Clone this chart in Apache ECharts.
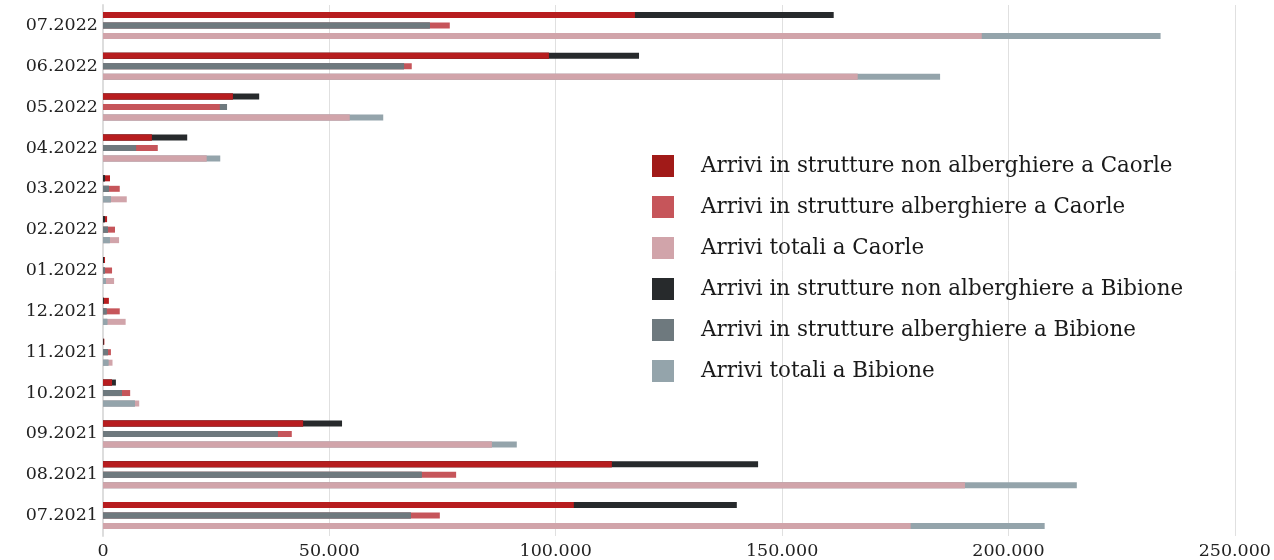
<!DOCTYPE html>
<html>
<head>
<meta charset="utf-8">
<script src="https://cdn.jsdelivr.net/npm/echarts@6/dist/echarts.min.js"></script>
<style>
  html, body { margin: 0; padding: 0; background: #ffffff; }
  #chart { width: 1274px; height: 560px; }
</style>
</head>
<body>
<div id="chart"></div>
<script>
// Monthly arrivals, Caorle vs Bibione (July 2021 – July 2022)
const months = ['07.2021', '08.2021', '09.2021', '10.2021', '11.2021', '12.2021',
                '01.2022', '02.2022', '03.2022', '04.2022', '05.2022', '06.2022', '07.2022'];

const caorleNonAlb = [104000, 112400, 44200, 2000, 300, 1300, 450, 900, 1550, 10800, 28700, 98500, 117500];
const caorleAlb    = [74400, 78000, 41700, 6000, 1750, 3700, 2000, 2650, 3700, 12100, 25800, 68200, 76600];
const caorleTot    = [178400, 190400, 85900, 8000, 2100, 5000, 2450, 3550, 5250, 22900, 54500, 166700, 194100];

const bibioneNonAlb = [140000, 144700, 52800, 2850, 100, 150, 200, 400, 450, 18600, 34500, 118400, 161400];
const bibioneAlb    = [68000, 70400, 38600, 4200, 1100, 800, 450, 1100, 1300, 7300, 27400, 66500, 72200];
const bibioneTot    = [208000, 215100, 91400, 7050, 1200, 950, 650, 1500, 1750, 25900, 61900, 184900, 233600];

const xTicks = { min: 0, max: 250000, interval: 50000 };

const names = {
  caorleNonAlb: 'Arrivi in strutture non alberghiere a Caorle',
  caorleAlb: 'Arrivi in strutture alberghiere a Caorle',
  caorleTot: 'Arrivi totali a Caorle',
  bibioneNonAlb: 'Arrivi in strutture non alberghiere a Bibione',
  bibioneAlb: 'Arrivi in strutture alberghiere a Bibione',
  bibioneTot: 'Arrivi totali a Bibione'
};

const colors = {
  caorleNonAlb: '#b71d1f',
  caorleAlb: '#c6555a',
  caorleTot: '#d1a4aa',
  bibioneNonAlb: '#272a2c',
  bibioneAlb: '#6e797e',
  bibioneTot: '#94a4ab'
};

const FONT = 'DejaVu Serif';
const BAR_W = 6;
const BAR_GAP = '75%';

function barSeries(name, data, color, axis) {
  return {
    name: name,
    type: 'bar',
    yAxisIndex: axis,
    data: data,
    barWidth: BAR_W,
    barGap: BAR_GAP,
    itemStyle: { color: color },
    emphasis: { disabled: true },
    silent: true
  };
}

// The two places share a row; the shorter bar of each pair is redrawn on top
function frontSeries(a, b, colA, colB) {
  return {
    type: 'bar',
    yAxisIndex: 2,
    barWidth: BAR_W,
    barGap: BAR_GAP,
    silent: true,
    emphasis: { disabled: true },
    data: a.map((v, i) => (v <= b[i]
      ? { value: v, itemStyle: { color: colA } }
      : { value: b[i], itemStyle: { color: colB } }))
  };
}

const catAxis = (show) => ({
  type: 'category',
  data: months,
  show: show,
  axisLine: { show: true, lineStyle: { color: '#dddddd', width: 2 } },
  axisTick: { show: false },
  axisLabel: { show: show, fontFamily: FONT, fontSize: 17.5, color: '#222222', margin: 5 }
});

const chart = echarts.init(document.getElementById('chart'), null, { renderer: 'canvas' });

chart.setOption({
  animation: false,
  backgroundColor: '#ffffff',
  grid: { left: 103, right: 39, top: 5, bottom: 21, containLabel: false },
  xAxis: {
    type: 'value',
    min: xTicks.min,
    max: xTicks.max,
    interval: xTicks.interval,
    axisLine: { show: false },
    axisTick: { show: false },
    splitLine: { show: true, lineStyle: { color: '#e0e0e0', width: 1 } },
    axisLabel: {
      fontFamily: FONT, fontSize: 17.5, color: '#222222', margin: 6,
      formatter: (v) => v.toLocaleString('en-US').replace(/,/g, '.')
    }
  },
  yAxis: [catAxis(true), catAxis(false), catAxis(false)],
  legend: {
    orient: 'vertical',
    left: 647,
    top: 150,
    itemWidth: 22,
    itemHeight: 22,
    itemGap: 19,
    icon: 'rect',
    selectedMode: false,
    textStyle: { fontFamily: FONT, fontSize: 21.4, color: '#1a1a1a', padding: [0, 0, 0, 22] },
    data: [
      { name: names.caorleNonAlb, itemStyle: { color: '#a11a18' } },
      { name: names.caorleAlb },
      { name: names.caorleTot },
      { name: names.bibioneNonAlb },
      { name: names.bibioneAlb },
      { name: names.bibioneTot }
    ]
  },
  series: [
    barSeries(names.caorleNonAlb, caorleNonAlb, colors.caorleNonAlb, 0),
    barSeries(names.caorleAlb, caorleAlb, colors.caorleAlb, 0),
    barSeries(names.caorleTot, caorleTot, colors.caorleTot, 0),
    barSeries(names.bibioneNonAlb, bibioneNonAlb, colors.bibioneNonAlb, 1),
    barSeries(names.bibioneAlb, bibioneAlb, colors.bibioneAlb, 1),
    barSeries(names.bibioneTot, bibioneTot, colors.bibioneTot, 1),
    frontSeries(caorleNonAlb, bibioneNonAlb, colors.caorleNonAlb, colors.bibioneNonAlb),
    frontSeries(caorleAlb, bibioneAlb, colors.caorleAlb, colors.bibioneAlb),
    frontSeries(caorleTot, bibioneTot, colors.caorleTot, colors.bibioneTot)
  ]
});
</script>
</body>
</html>
